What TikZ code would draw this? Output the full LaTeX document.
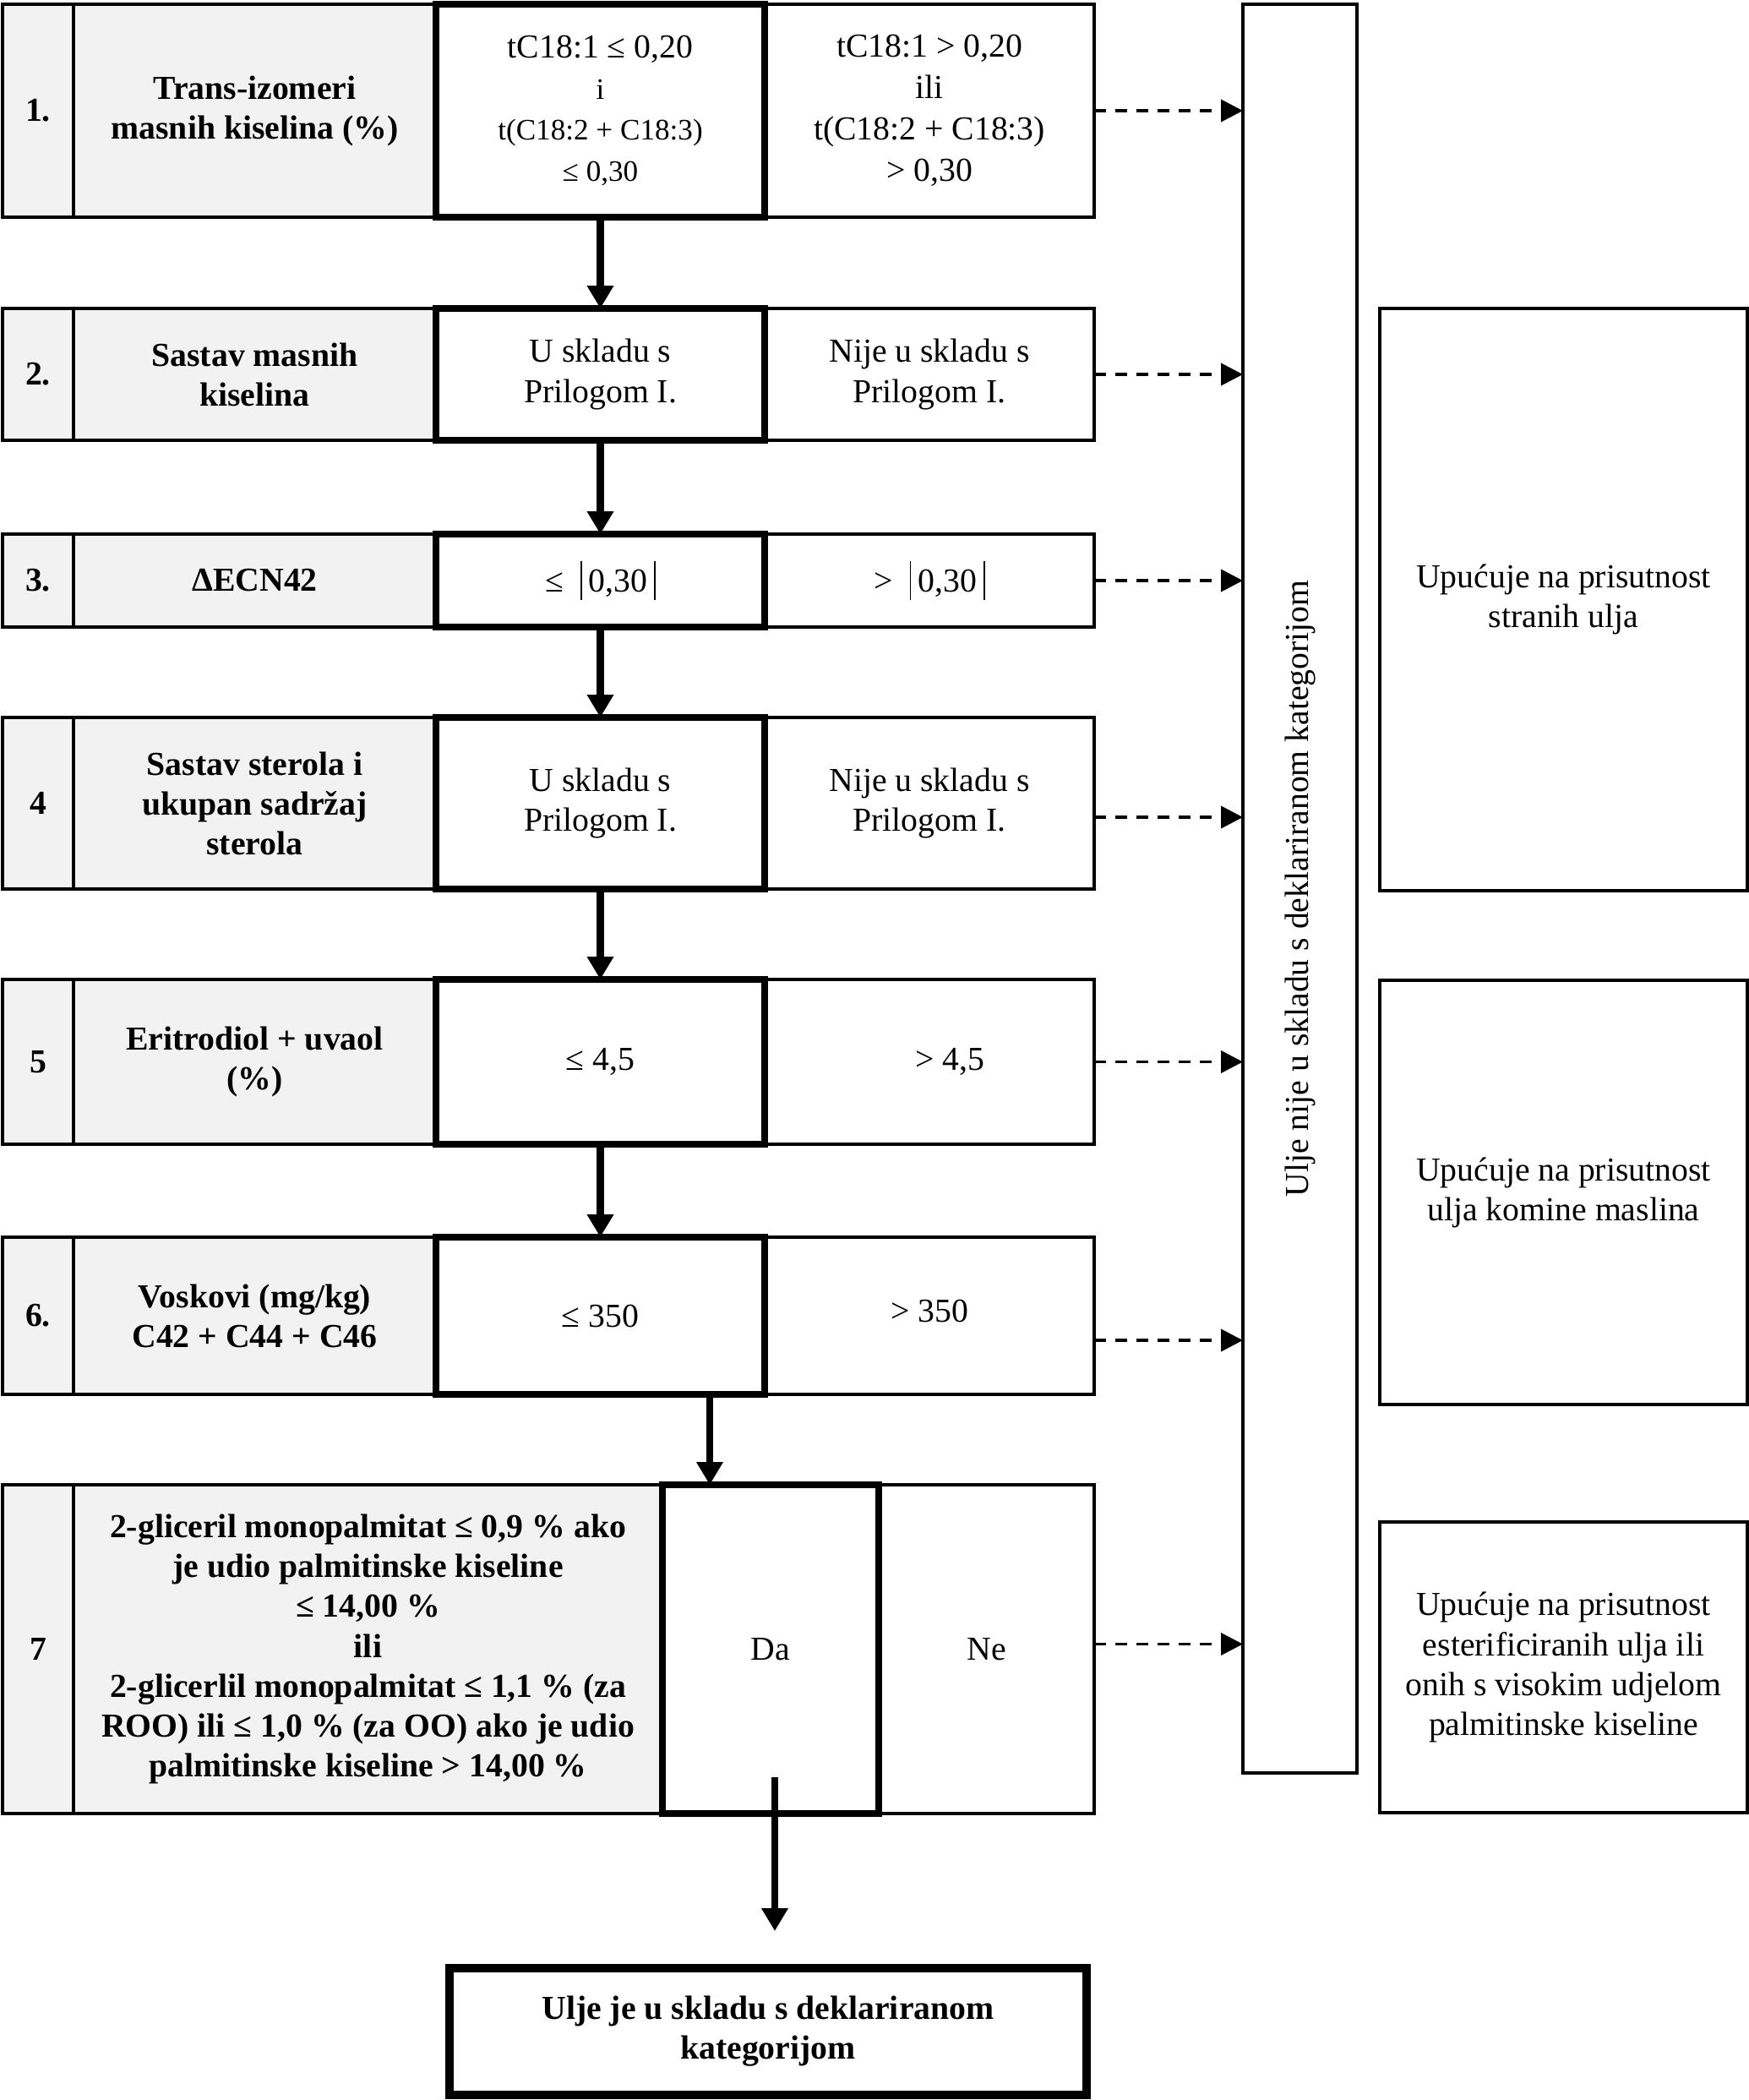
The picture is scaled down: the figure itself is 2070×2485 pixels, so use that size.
\documentclass[tikz,border=0pt]{standalone}
\usepackage{fontspec}
\setmainfont{Liberation Serif}
\usetikzlibrary{arrows.meta}
\definecolor{greyfill}{HTML}{F2F2F2}
\newcommand{\absbar}{\rule[-1mm]{0.5pt}{4.6mm}}
\begin{document}
\begin{tikzpicture}[x=0.1mm,y=-0.1mm,
  every node/.style={inner sep=0pt, outer sep=0pt},
  txt/.style={font=\fontsize{11.3}{13.4}\selectfont, align=center},
  btxt/.style={font=\bfseries\fontsize{11.3}{13.4}\selectfont, align=center},
  numc/.style={draw, line width=1.1pt, fill=greyfill, minimum width=8.4mm, btxt},
  greyc/.style={draw, line width=1.1pt, fill=greyfill, minimum width=42.9mm, btxt},
  midc/.style={draw, line width=2.2pt, fill=white, minimum width=38.9mm, txt},
  rc/.style={draw, line width=1.1pt, minimum width=39mm, txt},
  sidebox/.style={draw, line width=1.1pt, minimum width=43.5mm, txt},
  solidarr/.style={line width=2.4pt, -{Triangle[width=3mm,length=2.7mm]}},
  dasharr/.style={line width=1.1pt, dash pattern=on 1.4mm off 1.1mm, -{Triangle[width=2.6mm,length=2.6mm]}}
]
\useasboundingbox (0,0) rectangle (2070,2485);

% Row 1
\node[numc, minimum height=25.2mm] (n1) at (45,131) {1.};
\node[greyc, minimum height=25.2mm] (g1) at (301.5,131) {Trans-izomeri\\masnih kiselina (\%)};
\node[rc, minimum height=25.2mm, font=\fontsize{11.3}{13.9}\selectfont] (r1) at (1100,131) {tC18:1 > 0,20\\ili\\t(C18:2 + C18:3)\\> 0,30};
\node[midc, minimum height=25.2mm, font=\fontsize{11.3}{13.9}\selectfont] (m1) at (710.5,131) {tC18:1 ≤ 0,20\\ \fontsize{10}{13}\selectfont i\\ \fontsize{10}{13}\selectfont t(C18:2 + C18:3)\\ \fontsize{10}{13}\selectfont ≤ 0,30};

% Row 2
\node[numc, minimum height=15.6mm] (n2) at (45,443) {2.};
\node[greyc, minimum height=15.6mm] (g2) at (301.5,443) {Sastav masnih\\kiselina};
\node[rc, minimum height=15.6mm] (r2) at (1100,443) {Nije u skladu s\\Prilogom I.};
\node[midc, minimum height=15.6mm] (m2) at (710.5,443) {U skladu s\\Prilogom I.};

% Row 3
\node[numc, minimum height=11mm] (n3) at (45,687) {3.};
\node[greyc, minimum height=11mm] (g3) at (301.5,687) {ΔECN42};
\node[rc, minimum height=11mm] (r3) at (1100,687) {>\hspace{2mm}\absbar\hspace{0.8mm}0,30\hspace{0.8mm}\absbar};
\node[midc, minimum height=11mm] (m3) at (710.5,687) {≤\hspace{2mm}\absbar\hspace{0.8mm}0,30\hspace{0.8mm}\absbar};

% Row 4
\node[numc, minimum height=20.3mm] (n4) at (45,950.5) {4};
\node[greyc, minimum height=20.3mm] (g4) at (301.5,950.5) {Sastav sterola i\\ukupan sadržaj\\sterola};
\node[rc, minimum height=20.3mm] (r4) at (1100,950.5) {Nije u skladu s\\Prilogom I.};
\node[midc, minimum height=20.3mm] (m4) at (710.5,950.5) {U skladu s\\Prilogom I.};

% Row 5
\node[numc, minimum height=19.5mm] (n5) at (45,1256.5) {5};
\node[greyc, minimum height=19.5mm] (g5) at (301.5,1256.5) {Eritrodiol + uvaol\\(\%)};
\node[rc, minimum height=19.5mm] (r5) at (1100,1256.5) {\hspace*{4.8mm}> 4,5};
\node[midc, minimum height=19.5mm] (m5) at (710.5,1256.5) {≤ 4,5};

% Row 6
\node[numc, minimum height=18.6mm] (n6) at (45,1557) {6.};
\node[greyc, minimum height=18.6mm] (g6) at (301.5,1557) {Voskovi (mg/kg)\\C42 + C44 + C46};
\node[rc, minimum height=18.6mm] (r6) at (1100,1557) {\raisebox{1.2mm}{> 350}};
\node[midc, minimum height=18.6mm] (m6) at (710.5,1557) {≤ 350};

% Row 7
\node[numc, minimum height=38.9mm] (n7) at (45,1951.5) {7};
\node[greyc, minimum width=69.7mm, minimum height=38.9mm] (g7) at (435.5,1951.5) {2-gliceril monopalmitat ≤ 0,9 \% ako\\je udio palmitinske kiseline\\≤ 14,00 \%\\ili\\2-glicerlil monopalmitat ≤ 1,1 \% (za\\ROO) ili ≤ 1,0 \% (za OO) ako je udio\\palmitinske kiseline > 14,00 \%};
\node[rc, minimum width=25.5mm, minimum height=38.9mm] (ne) at (1167.5,1951.5) {Ne};
\node[midc, minimum width=25.6mm, minimum height=38.9mm] (da) at (912,1951.5) {Da};

% Final box
\node[draw, line width=2.6pt, minimum width=75.4mm, minimum height=15mm, btxt] (fin) at (909,2404) {Ulje je u skladu s deklariranom\\kategorijom};

% Long vertical box
\node[draw, line width=1.1pt, minimum width=13.5mm, minimum height=209.3mm] (vb) at (1538.5,1051.5) {};
\node[txt, rotate=90] (vt) at (vb.center) {Ulje nije u skladu s deklariranom kategorijom};

% Side boxes
\node[sidebox, minimum height=68.9mm] (sa) at (1850.5,709.5) {Upućuje na prisutnost\\stranih ulja};
\node[sidebox, minimum height=50.2mm] (sb) at (1850.5,1411) {Upućuje na prisutnost\\ulja komine maslina};
\node[sidebox, minimum height=34.4mm] (sc) at (1850.5,1973) {Upućuje na prisutnost\\esterificiranih ulja ili\\onih s visokim udjelom\\palmitinske kiseline};

% Solid arrows
\draw[solidarr] (m1.south) -- (m2.north);
\draw[solidarr] (m2.south) -- (m3.north);
\draw[solidarr] (m3.south) -- (m4.north);
\draw[solidarr] (m4.south) -- (m5.north);
\draw[solidarr] (m5.south) -- (m6.north);
\coordinate (a67) at ([xshift=12.95mm]m6.south);
\draw[solidarr] (a67) -- (a67 |- da.north);
\coordinate (afin) at ([xshift=0.5mm,yshift=4.3mm]da.south);
\coordinate (afinend) at ([yshift=4.4mm]fin.north);
\draw[solidarr] (afin) -- (afin |- afinend);

% Dashed arrows
\coordinate (d1) at (r1.east);
\coordinate (d2) at (r2.east);
\coordinate (d3) at (r3.east);
\coordinate (d4) at ([yshift=-1.65mm]r4.east);
\coordinate (d5) at (r5.east);
\coordinate (d6) at ([yshift=-2.9mm]ne.east |- r6.east);
\coordinate (d7) at ([yshift=0.6mm]ne.east);
\foreach \d in {d1,d2,d3,d4,d5,d6,d7}
  \draw[dasharr] (\d) -- (\d -| vb.west);
\end{tikzpicture}
\end{document}
